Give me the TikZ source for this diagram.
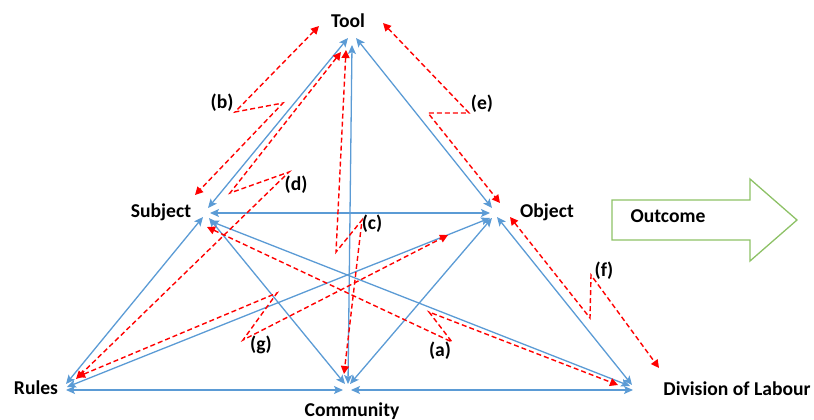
\documentclass[tikz,border=0pt]{standalone}
\usepackage{fontspec}
\setmainfont{Carlito}
\usetikzlibrary{arrows.meta,calc}
\definecolor{linkblue}{HTML}{5B9BD5}
\definecolor{contrared}{HTML}{FF0000}
\definecolor{outgreen}{HTML}{8DC166}
\begin{document}
\begin{tikzpicture}[x=1pt,y=-1pt,
  lbl/.style={font=\fontsize{19.6}{23}\selectfont\bfseries, inner sep=0pt},
  link/.style={draw=linkblue, line width=1.3pt,
    {Stealth[length=9pt,width=8pt,inset=2pt]}-{Stealth[length=9pt,width=8pt,inset=2pt]}},
  contra/.style={draw=contrared, line width=1.4pt, dash pattern=on 5pt off 3pt,
    line join=miter, miter limit=20,
    {Triangle[length=8pt,width=8pt]}-{Triangle[length=8pt,width=8pt]}}]
\useasboundingbox (0,0) rectangle (814,420);

% vertices of the activity system
\coordinate (T) at (352,36);
\coordinate (S) at (206,213);
\coordinate (O) at (494,213);
\coordinate (R) at (64,388);
\coordinate (C) at (347,388);
\coordinate (D) at (633,388);

% labels
\node[lbl] (tool) at (348,21) {Tool};
\node[lbl] (subject) at (161,212) {Subject};
\node[lbl] (object) at (547,212) {Object};
\node[lbl] (rules) at (36,388) {Rules};
\node[lbl] (community) at (352,411) {Community};
\node[lbl] (dol) at (737,389) {Division of Labour};

% relations between the components
\draw[link] ($(T)+(-4,2)$) -- ($(S)+(2,-5)$);
\draw[link] ($(T)+(4,2)$) -- ($(O)+(-2,-5)$);
\draw[link] ($(T)+(0,9)$) -- ($(C)+(1,-4)$);
\draw[link] ($(S)+(4,0)$) -- ($(O)+(-4,0)$);
\draw[link] ($(S)+(-3,4)$) -- ($(R)+(2,-4)$);
\draw[link] ($(S)+(3,5)$) -- ($(C)+(-2,-4)$);
\draw[link] ($(S)+(4,8)$) -- ($(D)+(-3,-2)$);
\draw[link] ($(O)+(-4,5)$) -- ($(R)+(3,-1)$);
\draw[link] ($(O)+(-2,5)$) -- ($(C)+(3,-4)$);
\draw[link] ($(O)+(3,4)$) -- ($(D)+(-1,-3)$);
\draw[link] ($(R)+(2,2)$) -- ($(C)+(-4,2)$);
\draw[link] ($(C)+(4,2)$) -- ($(D)+(0,2)$);

% contradiction labels
\node[lbl] (a) at (440,351) {(a)};
\node[lbl] (b) at (222,103) {(b)};
\node[lbl] (c) at (372,224) {(c)};
\node[lbl] (d) at (296,185) {(d)};
\node[lbl] (e) at (482,104) {(e)};
\node[lbl] (f) at (604,271) {(f)};
\node[lbl] (g) at (261,345) {(g)};

% end points and bends of the contradiction arrows
\coordinate (aS) at (207,227); \coordinate (a1) at (452,342);
\coordinate (a2) at (429,312); \coordinate (aD) at (618,385);
\coordinate (bT) at (319,26);  \coordinate (b1) at (235,112);
\coordinate (b2) at (283,103); \coordinate (bS) at (195,195);
\coordinate (cT) at (346,50);  \coordinate (c1) at (336,252);
\coordinate (c2) at (362,220); \coordinate (cC) at (344,374);
\coordinate (dT) at (341,52);  \coordinate (d1) at (230,193);
\coordinate (d2) at (289,172); \coordinate (dR) at (76,379);
\coordinate (eT) at (383,23);  \coordinate (e1) at (469,113);
\coordinate (e2) at (428,113); \coordinate (eO) at (500,203);
\coordinate (fO) at (510,217); \coordinate (f1) at (590,318);
\coordinate (f2) at (591,275); \coordinate (fD) at (659,368);
\coordinate (gR) at (77,377);  \coordinate (g1) at (277,293);
\coordinate (g2) at (243,340); \coordinate (gO) at (448,235);

\draw[contra] (aS) -- (a1) -- (a2) -- (aD);
\draw[contra] (bT) -- (b1) -- (b2) -- (bS);
\draw[contra] (cT) -- (c1) -- (c2) -- (cC);
\draw[contra] (dT) -- (d1) -- (d2) -- (dR);
\draw[contra] (eT) -- (e1) -- (e2) -- (eO);
\draw[contra] (fO) -- (f1) -- (f2) -- (fD);
\draw[contra] (gR) -- (g1) -- (g2) -- (gO);

% outcome block arrow
\draw[outgreen, line width=1.3pt, line join=miter]
  (612,200) -- (750,200) -- (750,179) -- (797,220) -- (750,261)
  -- (750,240) -- (612,240) -- cycle;
\node[lbl] (outcome) at (668,216) {Outcome};
\end{tikzpicture}
\end{document}
